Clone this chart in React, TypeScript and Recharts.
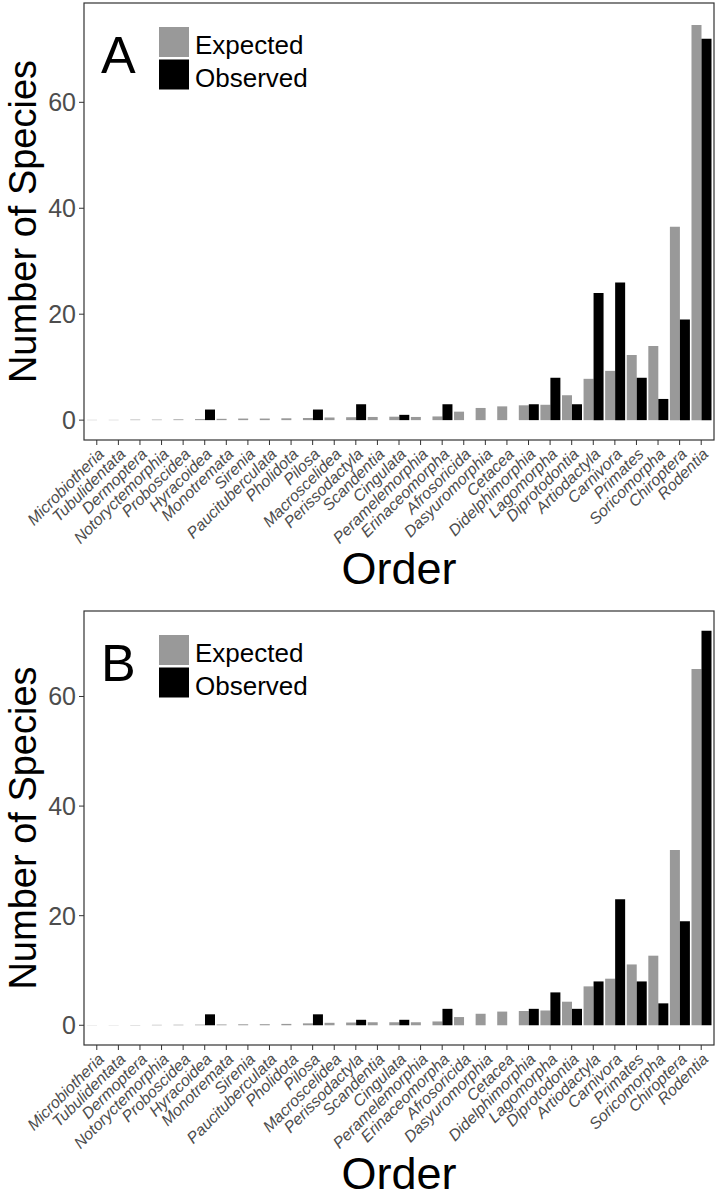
import React from 'react';
import * as Recharts from 'recharts';
import { Bar, BarChart, Legend, XAxis, YAxis } from 'recharts';

const orders = [
  'Microbiotheria', 'Tubulidentata', 'Dermoptera', 'Notoryctemorphia', 'Proboscidea',
  'Hyracoidea', 'Monotremata', 'Sirenia', 'Paucituberculata', 'Pholidota', 'Pilosa',
  'Macroscelidea', 'Perissodactyla', 'Scandentia', 'Cingulata', 'Peramelemorphia',
  'Erinaceomorpha', 'Afrosoricida', 'Dasyuromorphia', 'Cetacea', 'Didelphimorphia',
  'Lagomorpha', 'Diprotodontia', 'Artiodactyla', 'Carnivora', 'Primates',
  'Soricomorpha', 'Chiroptera', 'Rodentia',
];

const expectedA = [
  0.05, 0.05, 0.1, 0.1, 0.15, 0.2, 0.25, 0.3, 0.3, 0.35, 0.4, 0.5, 0.55, 0.6, 0.65,
  0.6, 0.7, 1.6, 2.3, 2.6, 2.8, 2.9, 4.7, 7.8, 9.3, 12.3, 14, 36.5, 74.6,
];
const observedA = [
  0, 0, 0, 0, 0, 2, 0, 0, 0, 0, 2, 0, 3, 0, 1, 0, 3, 0, 0, 0, 3, 8, 3, 24, 26, 8, 4, 19, 72,
];

const expectedB = [
  0.03, 0.03, 0.05, 0.08, 0.1, 0.12, 0.15, 0.18, 0.2, 0.25, 0.35, 0.45, 0.5, 0.55, 0.55,
  0.55, 0.7, 1.5, 2.1, 2.5, 2.6, 2.7, 4.3, 7.1, 8.5, 11.1, 12.7, 32, 65,
];
const observedB = [
  0, 0, 0, 0, 0, 2, 0, 0, 0, 0, 2, 0, 1, 0, 1, 0, 3, 0, 0, 0, 3, 6, 3, 8, 23, 8, 4, 19, 72,
];

const yTicks = [0, 20, 40, 60];

const FONT = '"Liberation Sans", Arial, Helvetica, sans-serif';
const BORDER = '#333333';
const TICK_TEXT = '#4D4D4D';

const usePlotAreaSafe: () => any = (Recharts as any).usePlotArea || (() => null);

// frame round the plot panel, like ggplot's panel.border
function PanelBorder({ fallback }: { fallback: { x: number; y: number; width: number; height: number } }) {
  const area = usePlotAreaSafe() || fallback;
  return (
    <rect
      x={area.x}
      y={area.y}
      width={area.width}
      height={area.height}
      fill="none"
      stroke={BORDER}
      strokeWidth={1.2}
      pointerEvents="none"
    />
  );
}

function OrderTick(props: any) {
  const { x, y, payload } = props;
  return (
    <text
      x={x}
      y={y}
      dy="0.72em"
      transform={`rotate(-45 ${x} ${y})`}
      textAnchor="end"
      fontSize={16}
      fontStyle="italic"
      fill={TICK_TEXT}
      fontFamily={FONT}
    >
      {payload.value}
    </text>
  );
}

function YTitle(props: any) {
  const { viewBox } = props;
  const cy = viewBox.y + viewBox.height / 2;
  return (
    <text
      x={36}
      y={cy}
      transform={`rotate(-90 36 ${cy})`}
      textAnchor="middle"
      fontSize={38}
      fill="#000"
      fontFamily={FONT}
    >
      Number of Species
    </text>
  );
}

function PanelLegend(props: any) {
  const { payload, letter, top } = props;
  return (
    <svg width={330} height={110} style={{ display: 'block' }}>
      <text x={101} y={top + 46} fontSize={52} fontFamily={FONT} fill="#000">
        {letter}
      </text>
      {(payload || []).map((p: any, i: number) => (
        <g key={p.value}>
          <rect x={159} y={top + i * 32.5} width={30} height={30} fill={p.color} />
          <text x={195} y={top + i * 32.5 + 27} fontSize={26} fontFamily={FONT} fill="#000">
            {p.value}
          </text>
        </g>
      ))}
    </svg>
  );
}

type PanelProps = {
  letter: string;
  expected: number[];
  observed: number[];
  domain: [number, number];
  marginTop: number;
  axisHeight: number;
  legendTop: number;
  titleOffset: number;
};

function Panel({ letter, expected, observed, domain, marginTop, axisHeight, legendTop, titleOffset }: PanelProps) {
  const rows = orders.map((order, i) => ({
    order,
    Expected: expected[i],
    Observed: observed[i],
  }));
  const fallback = { x: 84, y: marginTop, width: 630, height: 600 - marginTop - axisHeight };

  return (
    <BarChart
      width={716}
      height={600}
      data={rows}
      margin={{ top: marginTop, right: 2, bottom: 0, left: 0 }}
      barCategoryGap="5%"
      barGap={0}
    >
      <XAxis
        dataKey="order"
        interval={0}
        height={axisHeight}
        padding={{ left: 2, right: 2 }}
        tick={<OrderTick />}
        tickSize={5}
        tickMargin={2}
        tickLine={{ stroke: BORDER }}
        axisLine={false}
        label={{
          value: 'Order',
          position: 'insideBottom',
          offset: titleOffset,
          fontSize: 45,
          fill: '#000',
          fontFamily: FONT,
        }}
      />
      <YAxis
        width={84}
        domain={domain}
        ticks={yTicks}
        allowDataOverflow
        tickSize={5}
        tickMargin={3}
        tickLine={{ stroke: BORDER }}
        axisLine={false}
        tick={{ fontSize: 25, fill: TICK_TEXT, fontFamily: FONT }}
        label={<YTitle />}
      />
      <Legend
        layout="vertical"
        align="center"
        verticalAlign="middle"
        wrapperStyle={{ position: 'absolute', left: 0, top: 0, width: 330, height: 110, margin: 0 }}
        content={<PanelLegend letter={letter} top={legendTop} />}
      />
      <Bar dataKey="Expected" fill="#999999" isAnimationActive={false} />
      <Bar dataKey="Observed" fill="#000000" isAnimationActive={false} />
      <PanelBorder fallback={fallback} />
    </BarChart>
  );
}

export default function App() {
  return (
    <div
      style={{
        position: 'absolute',
        left: 0,
        top: 0,
        width: 716,
        height: 1200,
        background: '#fff',
        fontFamily: FONT,
      }}
    >
      <div style={{ position: 'absolute', left: 0, top: 0 }}>
        <Panel
          letter="A"
          expected={expectedA}
          observed={observedA}
          domain={[-3.75, 78.75]}
          marginTop={3}
          axisHeight={160}
          legendTop={27}
          titleOffset={16}
        />
      </div>
      <div style={{ position: 'absolute', left: 0, top: 600 }}>
        <Panel
          letter="B"
          expected={expectedB}
          observed={observedB}
          domain={[-3.6, 75.6]}
          marginTop={11}
          axisHeight={155}
          legendTop={35}
          titleOffset={11}
        />
      </div>
    </div>
  );
}
